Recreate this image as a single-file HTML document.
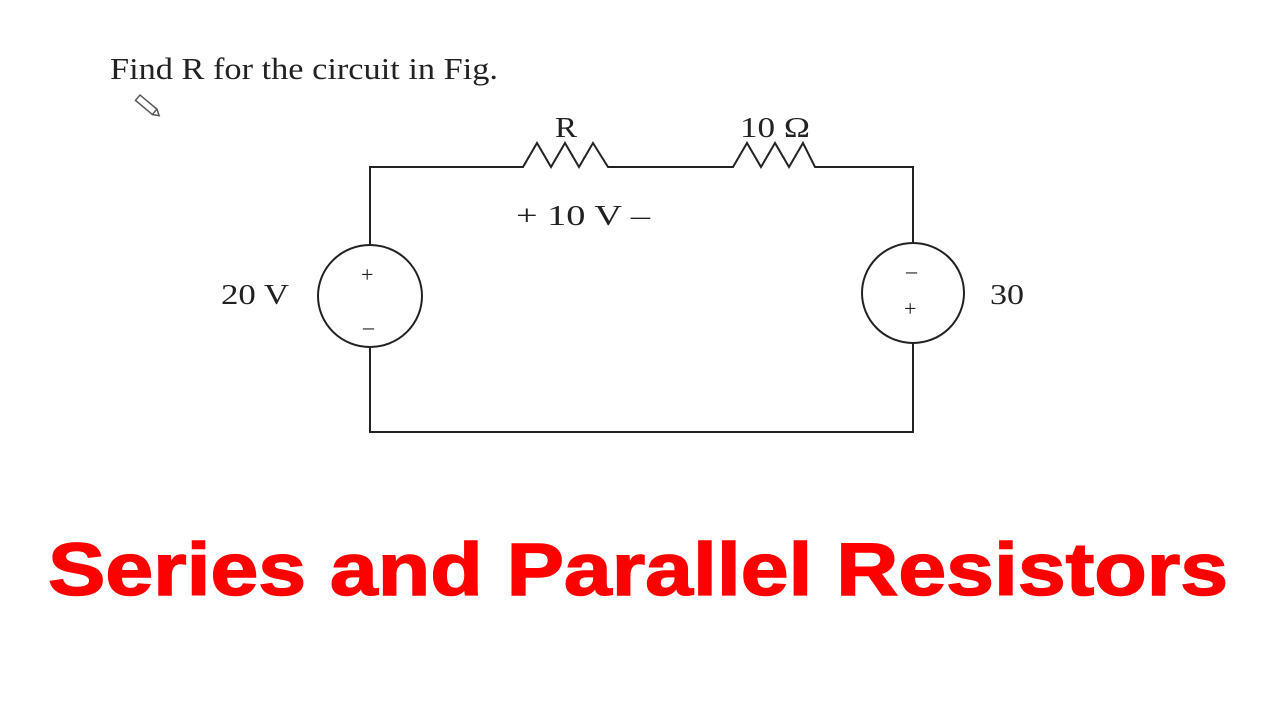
<!DOCTYPE html>
<html><head><meta charset="utf-8"><style>
html,body{margin:0;padding:0;background:#fff;width:1280px;height:720px;overflow:hidden}
</style></head><body>
<svg width="1280" height="720" viewBox="0 0 1280 720" xmlns="http://www.w3.org/2000/svg">
<rect width="1280" height="720" fill="#fff"/>
<text x="110" y="79" font-family="Liberation Serif, serif" font-size="31" fill="#222" textLength="388" lengthAdjust="spacingAndGlyphs">Find R for the circuit in Fig.</text>
<g transform="translate(140,95) rotate(40)" fill="none" stroke="#555" stroke-width="1.5">
<rect x="0" y="0" width="22" height="7"/><path d="M22 0 L28 3.5 L22 7"/>
</g>
<g fill="none" stroke="#222" stroke-width="2">
<path d="M370 246 V167 H523 L537 143 L551 167 L565 143 L579 167 L593 143 L608 167 H733 L747 143 L761 167 L775 143 L789 167 L803 143 L815 167 H913 V243"/>
<path d="M370 347 V432 H913 V343"/>
<ellipse cx="370" cy="296" rx="52" ry="51"/>
<ellipse cx="913" cy="293" rx="51" ry="50"/>
</g>
<g font-family="Liberation Serif, serif" font-size="28" fill="#222">
<text x="555" y="137" textLength="22" lengthAdjust="spacingAndGlyphs">R</text>
<text x="740" y="137" textLength="70" lengthAdjust="spacingAndGlyphs">10 Ω</text>
<text x="516" y="225" textLength="134" lengthAdjust="spacingAndGlyphs">+ 10  V –</text>
<text x="221" y="304" textLength="68" lengthAdjust="spacingAndGlyphs">20 V</text>
<text x="990" y="304" textLength="34" lengthAdjust="spacingAndGlyphs">30</text>
<text x="361" y="282" font-size="22">+</text>
<text x="363" y="334" font-size="22">–</text>
<text x="906" y="278" font-size="22">–</text>
<text x="904" y="316" font-size="22">+</text>
</g>
<text x="48" y="595" font-family="Liberation Sans, Arial, sans-serif" font-weight="bold" font-size="74" fill="#f00" stroke="#f00" stroke-width="1.5" textLength="1180" lengthAdjust="spacingAndGlyphs">Series and Parallel Resistors</text>
</svg>
</body></html>
